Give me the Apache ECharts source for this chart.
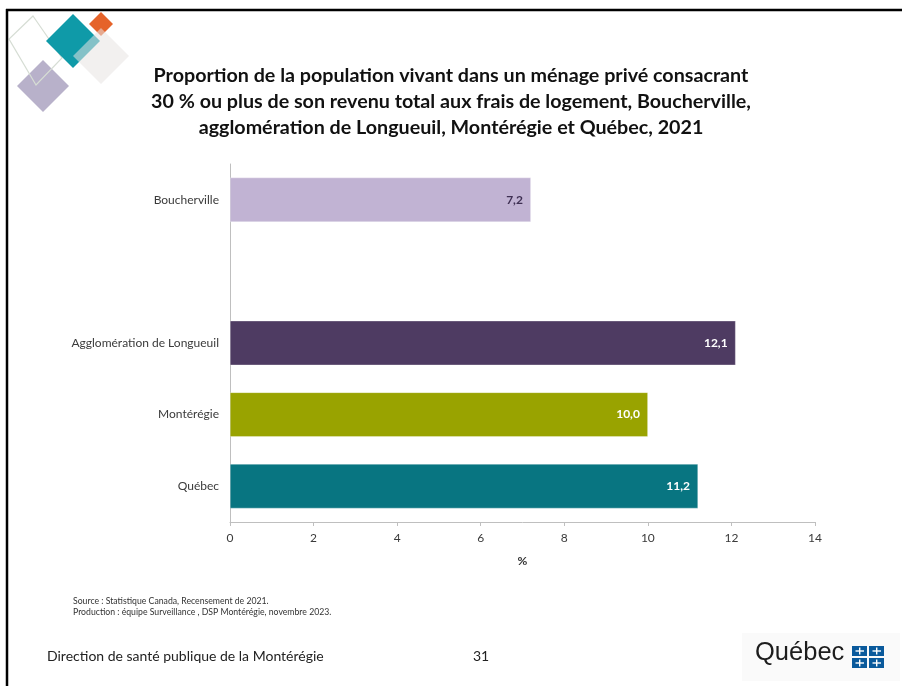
<!DOCTYPE html>
<html>
<head>
<meta charset="utf-8">
<script src="https://cdn.jsdelivr.net/npm/echarts@6/dist/echarts.min.js"></script>
<style>
html,body{margin:0;padding:0;background:#fff;}
#chart{width:902px;height:686px;}
</style>
</head>
<body>
<div id="chart"></div>
<script>
// ---- data ----
var categories = ['Boucherville', '', 'Agglomération de Longueuil', 'Montérégie', 'Québec'];
var values = [7.2, null, 12.1, 10.0, 11.2];
var xTicks = [0, 2, 4, 6, 8, 10, 12, 14];
var titleLines = [
  'Proportion de la population vivant dans un ménage privé consacrant',
  '30 % ou plus de son revenu total aux frais de logement, Boucherville,',
  'agglomération de Longueuil, Montérégie et Québec, 2021'
];
var sourceLines = [
  'Source : Statistique Canada, Recensement de 2021.',
  'Production : équipe Surveillance , DSP Montérégie, novembre 2023.'
];
var footerText = 'Direction de santé publique de la Montérégie';
var pageNumber = '31';

// ---- styles ----
var barColors = ['#c1b3d3', '#ffffff', '#4e3b62', '#99a300', '#087581'];
var labelColors = ['#3e2f52', '#ffffff', '#ffffff', '#ffffff', '#ffffff'];
var FONT = 'Lato, "Open Sans", sans-serif';

var chart = echarts.init(document.getElementById('chart'), null, {renderer: 'canvas'});

var barData = values.map(function (v, i) {
  return {
    value: v,
    itemStyle: {color: barColors[i]},
    label: {color: labelColors[i]}
  };
});

function diamond(cx, cy, r) {
  return [[cx, cy - r], [cx + r, cy], [cx, cy + r], [cx - r, cy]];
}

var flagBlue = '#0a5a9c';
var flagCells = [];
[[852, 646], [869, 646], [852, 658], [869, 658]].forEach(function (p) {
  flagCells.push({type: 'rect', shape: {x: p[0], y: p[1], width: 15, height: 10}, style: {fill: flagBlue}, z: 12});
  flagCells.push({type: 'rect', shape: {x: p[0] + 7, y: p[1] + 1.5, width: 1.4, height: 7}, style: {fill: '#fff'}, z: 13});
  flagCells.push({type: 'rect', shape: {x: p[0] + 3.5, y: p[1] + 4.3, width: 8.5, height: 1.4}, style: {fill: '#fff'}, z: 13});
});

var option = {
  animation: false,
  backgroundColor: '#ffffff',
  grid: {left: 230, right: 87, top: 164, bottom: 164, containLabel: false},
  xAxis: {
    type: 'value',
    min: 0, max: 14, interval: 2,
    name: '%',
    nameLocation: 'middle',
    nameGap: 33,
    nameTextStyle: {fontFamily: FONT, fontSize: 12, fontWeight: 'bold', color: '#333'},
    axisLine: {show: true, lineStyle: {color: '#bfbfbf', width: 1}},
    axisTick: {show: true, length: 4, lineStyle: {color: '#bfbfbf'}},
    splitLine: {show: false},
    axisLabel: {
      fontFamily: FONT, fontSize: 12, color: '#3a3a3a', margin: 10,
      formatter: function (v) { return xTicks.indexOf(v) >= 0 ? String(v) : ''; }
    }
  },
  yAxis: {
    type: 'category',
    data: categories,
    inverse: true,
    axisLine: {show: true, lineStyle: {color: '#bfbfbf', width: 1}},
    axisTick: {show: false},
    axisLabel: {fontFamily: FONT, fontSize: 12, color: '#3a3a3a', margin: 11}
  },
  series: [{
    type: 'bar',
    data: barData,
    barCategoryGap: '38%',
    itemStyle: {borderColor: 'rgba(255,255,255,0.6)', borderWidth: 0.5},
    label: {
      show: true,
      position: 'insideRight',
      distance: 8,
      fontFamily: FONT,
      fontSize: 12,
      fontWeight: 'bold',
      formatter: function (p) { return p.value == null ? '' : p.value.toFixed(1).replace('.', ','); }
    }
  }],
  graphic: [
    // slide border
    {type: 'line', shape: {x1: 6, y1: 10, x2: 902, y2: 10}, style: {stroke: '#000', lineWidth: 2.5}, z: 20},
    {type: 'line', shape: {x1: 7, y1: 9, x2: 7, y2: 686}, style: {stroke: '#000', lineWidth: 2.5}, z: 20},
    // decorative squares
    {type: 'polygon', shape: {points: [[33, 16], [62, 58], [36, 85], [9, 39]]}, style: {fill: 'none', stroke: '#d6ddd4', lineWidth: 1.2}, z: 5},
    {type: 'polygon', shape: {points: diamond(43, 86, 26)}, style: {fill: '#b8b1ca'}, z: 4},
    {type: 'polygon', shape: {points: diamond(73, 41, 27)}, style: {fill: '#0f9aa8'}, z: 6},
    {type: 'polygon', shape: {points: diamond(101, 24, 12)}, style: {fill: '#e5632a'}, z: 6},
    {type: 'polygon', shape: {points: diamond(101, 56, 28)}, style: {fill: 'rgba(232,228,225,0.55)'}, z: 7},
    // title
    {type: 'text', left: 'center', top: 63, style: {
      text: titleLines.join('\n'), fontFamily: FONT, fontSize: 19.7, fontWeight: 'bold',
      fill: '#111', textAlign: 'center', lineHeight: 26
    }, z: 10},
    // source
    {type: 'text', left: 73, top: 596, style: {
      text: sourceLines.join('\n'), fontFamily: FONT, fontSize: 8.7, fill: '#333', lineHeight: 11
    }, z: 10},
    // footer
    {type: 'text', left: 47, top: 649, style: {text: footerText, fontFamily: FONT, fontSize: 14, fill: '#222'}, z: 10},
    {type: 'text', left: 473, top: 649, style: {text: pageNumber, fontFamily: FONT, fontSize: 14, fill: '#222'}, z: 10},
    // Québec logo
    {type: 'rect', shape: {x: 742, y: 633, width: 158, height: 48}, style: {fill: '#fafafa'}, z: 9},
    {type: 'text', left: 755, top: 640, style: {text: 'Québec', fontFamily: '"Liberation Sans", sans-serif', fontSize: 25.5, fill: '#1d1d1d'}, z: 12}
  ].concat(flagCells)
};

chart.setOption(option);
</script>
</body>
</html>
